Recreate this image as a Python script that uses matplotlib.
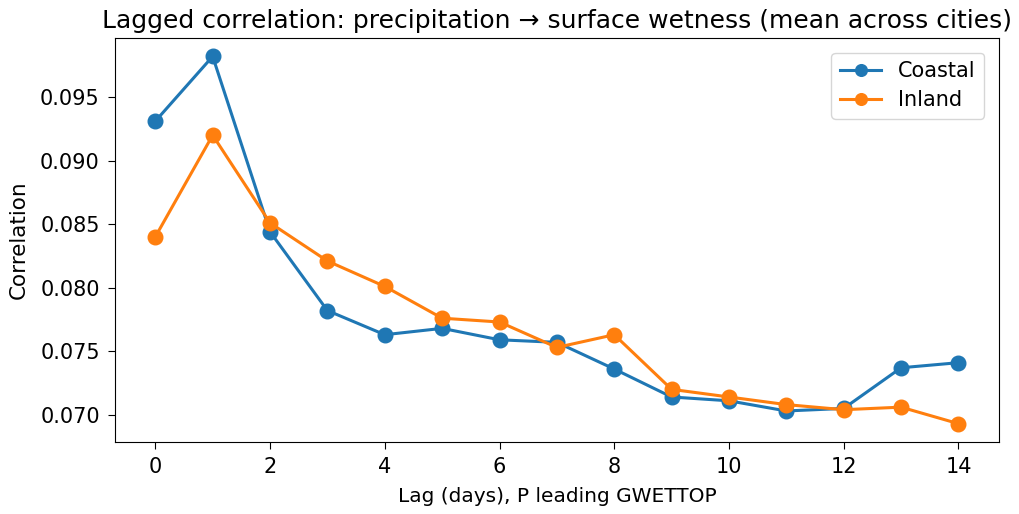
import matplotlib
matplotlib.use("Agg")
import matplotlib.pyplot as plt

lags = list(range(15))
coastal = [0.0931, 0.0982, 0.0844, 0.0782, 0.0763, 0.0768, 0.0759, 0.0757, 0.0736,
           0.0714, 0.0711, 0.0703, 0.0705, 0.0737, 0.0741]
inland = [0.0840, 0.0920, 0.0851, 0.0821, 0.0801, 0.0776, 0.0773, 0.0753, 0.0763,
          0.0720, 0.0714, 0.0708, 0.0704, 0.0706, 0.0693]

fig = plt.figure(figsize=(10.19, 5.14), dpi=100)
ax = fig.add_axes([0.113, 0.14, 0.867, 0.786])
ax.plot(lags, coastal, marker="o", markersize=10.5, linewidth=2.2, label="Coastal")
ax.plot(lags, inland, marker="o", markersize=10.5, linewidth=2.2, label="Inland")
ax.set_xticks(range(0, 15, 2))
ax.set_xlabel("Lag (days), P leading GWETTOP", fontsize=14.5, labelpad=7)
ax.set_ylabel("Correlation", fontsize=15.5, labelpad=8)
ax.set_title("Lagged correlation: precipitation \u2192 surface wetness (mean across cities)",
             fontsize=18, pad=7)
ax.tick_params(labelsize=15, length=5, pad=6)
ax.legend(fontsize=15, loc="upper right", markerscale=0.8, labelspacing=0.45,
          borderaxespad=0.7)
fig.savefig("out.png", dpi=100)
